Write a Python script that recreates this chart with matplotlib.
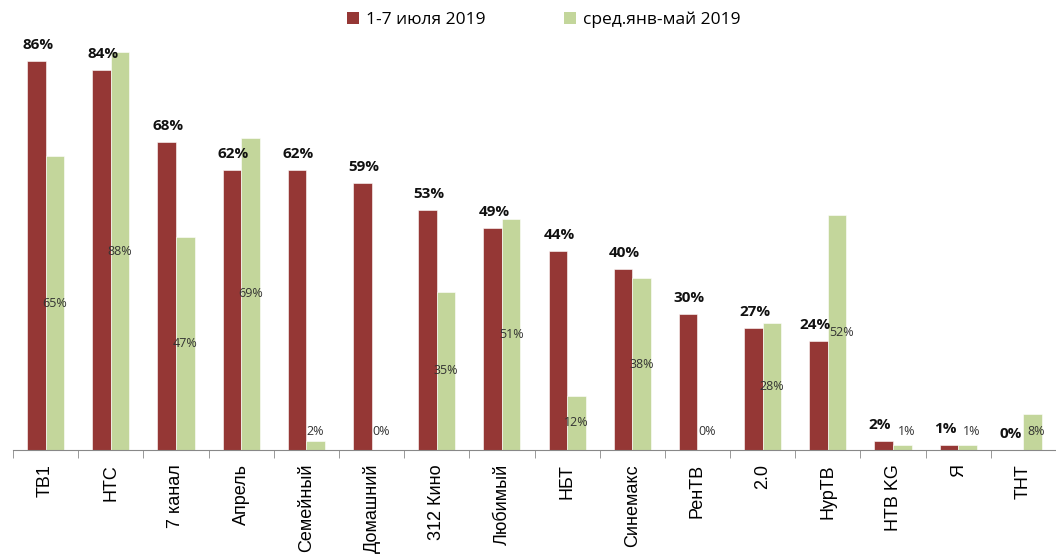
import matplotlib
matplotlib.use("Agg")
import matplotlib.pyplot as plt
import numpy as np
from matplotlib.patches import Patch

categories = ["ТВ1", "НТС", "7 канал", "Апрель", "Семейный", "Домашний", "312 Кино",
              "Любимый", "НБТ", "Синемакс", "РенТВ", "2.0", "НурТВ", "НТВ KG", "Я", "ТНТ"]
july = [86, 84, 68, 62, 62, 59, 53, 49, 44, 40, 30, 27, 24, 2, 1, 0]
avg = [65, 88, 47, 69, 2, 0, 35, 51, 12, 38, 0, 28, 52, 1, 1, 8]
series_names = ["1-7 июля 2019", "сред.янв-май 2019"]

RED = "#953735"
GREEN = "#C3D69B"
FONT = ["Open Sans", "DejaVu Sans"]
TFONT = ["Liberation Sans", "DejaVu Sans"]

fig = plt.figure(figsize=(10.56, 5.55), dpi=100)
ax = fig.add_axes([13/1056, 105/555, 1043/1056, 450/555])

x = np.arange(len(categories))
w = 0.285
ax.bar(x - w/2, july, w, color=RED, edgecolor="white", linewidth=0.4)
ax.bar(x + w/2, avg, w, color=GREEN, edgecolor="white", linewidth=0.4)

for i, (a, b) in enumerate(zip(july, avg)):
    gy = max(b / 2, 4.2)
    close = abs((a + 4) - gy) < 4
    ax.text(i - w/2 + (-0.06 if close else 0.02), a + 2.0, f"{a}%", ha="center", va="bottom",
            fontsize=11, fontweight="bold", family=FONT, color="#111111")
    ax.text(i + w/2 + (0.06 if close else 0.0), gy, f"{b}%", ha="center", va="center",
            fontsize=9, family=FONT, color="#333333")

ax.set_xlim(-0.5, len(categories) - 0.5)
ax.set_ylim(0, 99.5)
for s in ["top", "right", "left"]:
    ax.spines[s].set_visible(False)
ax.spines["bottom"].set_color("#888888")
ax.set_yticks([])
ax.set_xticks(x)
ax.set_xticklabels(categories, rotation=90, fontsize=13, family=TFONT, color="#000000")
ax.tick_params(axis="x", which="major", length=0, pad=10)
ax.set_xticks(np.arange(-0.5, len(categories), 1), minor=True)
ax.tick_params(axis="x", which="minor", length=6, color="#888888", direction="out")

handles = [Patch(facecolor=RED), Patch(facecolor=GREEN)]
fig.legend(handles, series_names, loc="center", bbox_to_anchor=(0.515, 1 - 20/555),
           ncol=2, frameon=False, prop={"family": FONT, "size": 12.5},
           handlelength=0.7, handleheight=0.7, handletextpad=0.4, columnspacing=4.5)

fig.savefig("out.png", dpi=100)
